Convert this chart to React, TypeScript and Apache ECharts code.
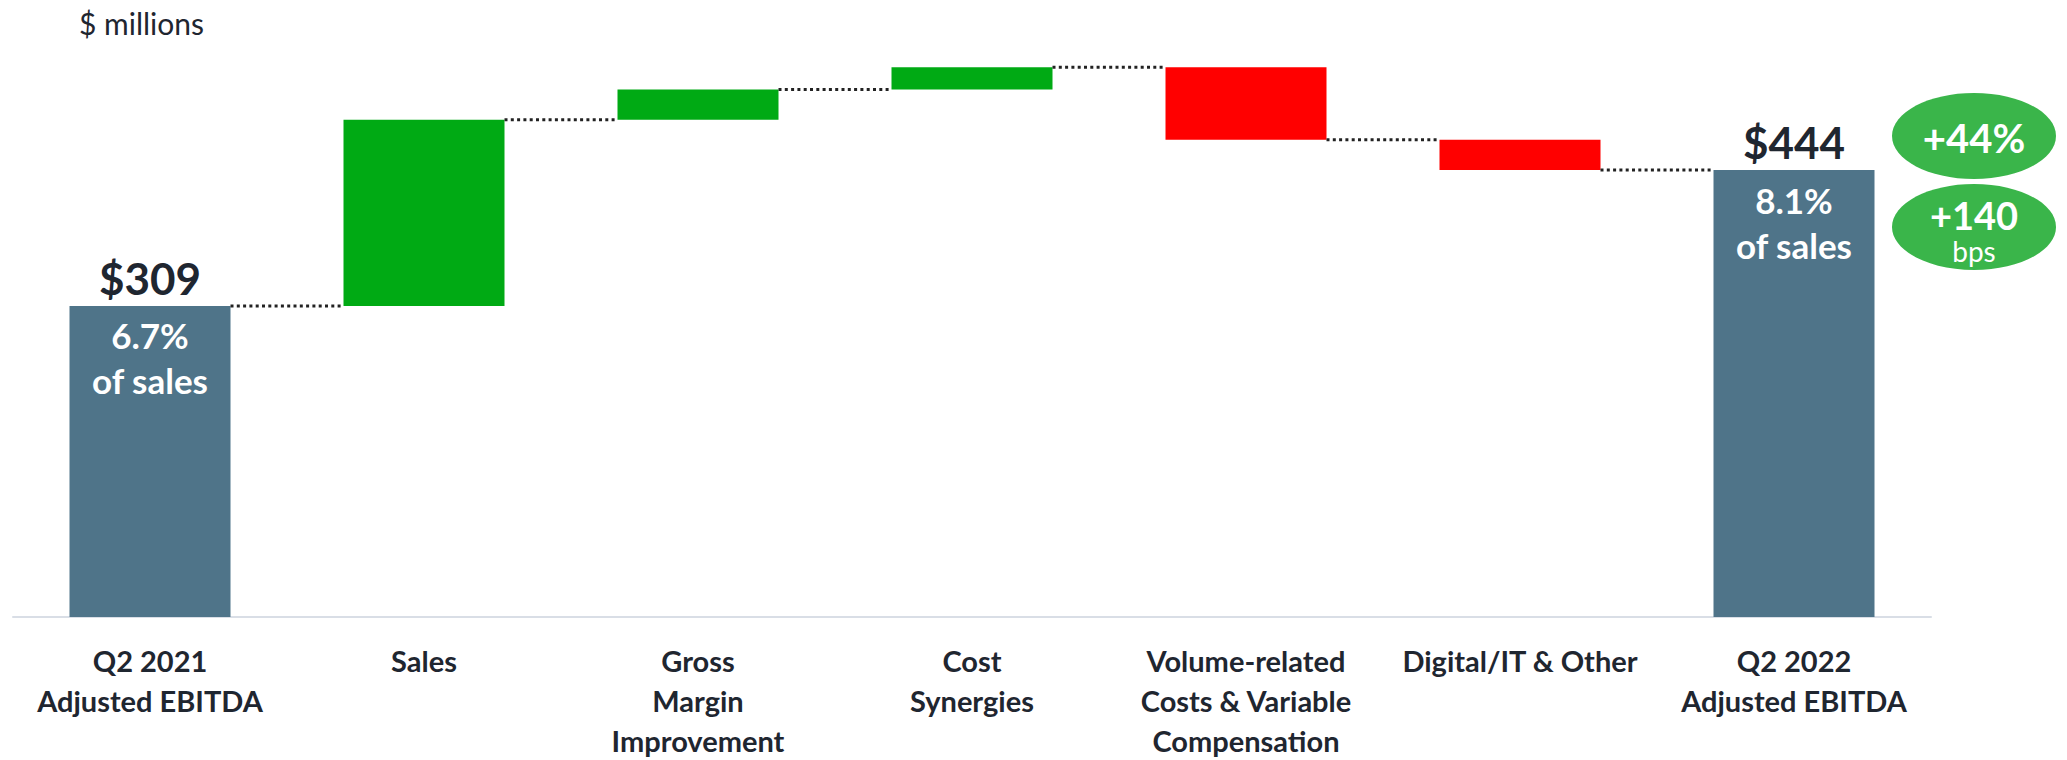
import React, { useEffect, useRef } from "react";
import * as echarts from "echarts";

const categories = [
  "Q2 2021\nAdjusted EBITDA",
  "Sales",
  "Gross\nMargin\nImprovement",
  "Cost\nSynergies",
  "Volume-related\nCosts & Variable\nCompensation",
  "Digital/IT & Other",
  "Q2 2022\nAdjusted EBITDA",
];
const startValue = 309;
const endValue = 444;
const deltas = [185, 30, 22, -72, -30];
const totalLabels = ["$309", "$444"];
const marginLabels = ["6.7%\nof sales", "8.1%\nof sales"];
const growthPct = "+44%";
const growthBps = "+140";
const unitLabel = "$ millions";

const FONT = "Lato";
const DARK = "#1f2630";
const BLUE = "#4f7489";
const GREEN = "#00aa14";
const RED = "#ff0000";
const BADGE = "#3ab54a";
const BAR_W = 161;

export default function App() {
  const ref = useRef<HTMLDivElement>(null);
  useEffect(() => {
    if (!ref.current) return;
    const chart = echarts.init(ref.current, null, { renderer: "svg" });

    const base: number[] = [0];
    const vals: any[] = [];
    const levels: number[] = [startValue];
    let run = startValue;
    vals.push({
      value: startValue,
      itemStyle: { color: BLUE },
      label: { show: true, position: "insideTop", distance: 7, formatter: marginLabels[0] },
    });
    deltas.forEach((d) => {
      const next = run + d;
      base.push(Math.min(run, next));
      vals.push({ value: Math.abs(d), itemStyle: { color: d >= 0 ? GREEN : RED } });
      run = next;
      levels.push(run);
    });
    base.push(0);
    vals.push({
      value: endValue,
      itemStyle: { color: BLUE },
      label: { show: true, position: "insideTop", distance: 7, formatter: marginLabels[1] },
    });

    const connectors = levels.map((lv, i) => [i, lv]);

    chart.setOption({
      animation: false,
      grid: { left: 13, right: 136, top: 13, bottom: 140, containLabel: false },
      xAxis: {
        type: "category",
        data: categories,
        axisTick: { show: false },
        axisLine: { show: true, lineStyle: { color: "#d9dee6", width: 2 } },
        axisLabel: {
          interval: 0,
          margin: 23,
          fontSize: 29,
          fontWeight: "bold",
          lineHeight: 40,
          color: DARK,
          fontFamily: FONT,
        },
      },
      yAxis: { type: "value", min: 0, max: 600, show: false, splitLine: { show: false } },
      series: [
        {
          type: "bar",
          stack: "wf",
          barWidth: BAR_W,
          data: base,
          itemStyle: { color: "rgba(0,0,0,0)" },
          silent: true,
        },
        {
          type: "bar",
          stack: "wf",
          barWidth: BAR_W,
          data: vals,
          label: {
            show: false,
            color: "#ffffff",
            fontSize: 35,
            fontWeight: "bold",
            lineHeight: 45,
            fontFamily: FONT,
          },
        },
        {
          type: "custom",
          data: connectors,
          silent: true,
          z: 5,
          renderItem: (params: any, api: any) => {
            const c = api.coord([api.value(0), api.value(1)]);
            const cw = api.size([1, 0])[0];
            return {
              type: "line",
              shape: { x1: c[0] + BAR_W / 2, y1: c[1], x2: c[0] + cw - BAR_W / 2, y2: c[1] },
              style: { stroke: "#222222", lineWidth: 3, lineDash: [3, 3.3] },
            };
          },
        },
        {
          type: "scatter",
          symbol: "circle",
          symbolSize: 0,
          itemStyle: { color: DARK, opacity: 1 },
          silent: true,
          data: [
            [0, startValue],
            [categories.length - 1, endValue],
          ],
          label: {
            show: true,
            position: "top",
            distance: 6,
            fontSize: 44,
            fontWeight: "bold",
            lineHeight: 44,
            color: DARK,
            opacity: 1,
            fontFamily: FONT,
            formatter: (p: any) => totalLabels[p.dataIndex === 0 ? 0 : 1],
          },
        },
      ],
      graphic: [
        {
          type: "text",
          left: 79,
          top: 8,
          style: { text: unitLabel, fontSize: 30, fill: DARK, fontFamily: FONT },
        },
        {
          type: "ellipse",
          shape: { cx: 1974, cy: 136, rx: 82, ry: 43 },
          style: { fill: BADGE },
        },
        {
          type: "text",
          x: 1974,
          y: 138,
          style: {
            text: growthPct,
            fontSize: 40,
            fontWeight: "bold",
            fill: "#ffffff",
            fontFamily: FONT,
            align: "center",
            verticalAlign: "middle",
          },
        },
        {
          type: "ellipse",
          shape: { cx: 1974, cy: 227, rx: 82, ry: 43 },
          style: { fill: BADGE },
        },
        {
          type: "text",
          x: 1974,
          y: 232,
          style: {
            text: "{a|" + growthBps + "}\n{b|bps}",
            fill: "#ffffff",
            fontFamily: FONT,
            align: "center",
            verticalAlign: "middle",
            rich: {
              a: { fontSize: 38, fontWeight: "bold", lineHeight: 38, fill: "#ffffff", fontFamily: FONT },
              b: { fontSize: 28, lineHeight: 34, fill: "#ffffff", fontFamily: FONT },
            },
          },
        },
      ],
    });
    return () => chart.dispose();
  }, []);
  return (
    <div
      ref={ref}
      style={{ position: "fixed", left: 0, top: 0, width: 2067, height: 760, background: "#ffffff" }}
    />
  );
}
